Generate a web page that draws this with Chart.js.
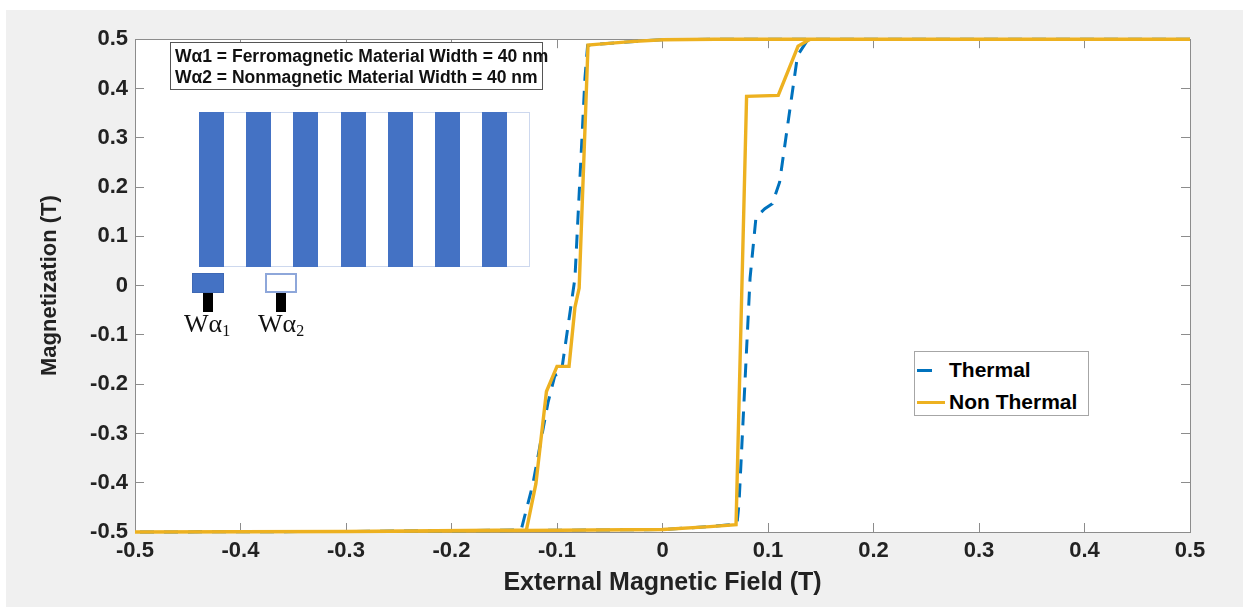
<!DOCTYPE html>
<html>
<head>
<meta charset="utf-8">
<script src="https://cdn.jsdelivr.net/npm/chart.js@4.4.1/dist/chart.umd.min.js"></script>
<style>
  html, body { margin: 0; padding: 0; background: #fff; }
  body { width: 1243px; height: 607px; position: relative; overflow: hidden; font-family: "Liberation Sans", Arial, sans-serif; }
  #wrap { position: absolute; left: 6px; top: 10px; width: 1237px; height: 597px; background: #f0f0f0; }
  #wrap canvas { position: absolute; left: 0; top: 0; }
  #note { position: absolute; left: 170px; top: 42px; width: 373px; height: 48px; box-sizing: border-box;
          border: 1px solid #555; background: #fff; padding: 3px 0 0 4px;
          font-weight: bold; font-size: 17.5px; line-height: 21px; color: #111; white-space: nowrap; }
  #stripes { position: absolute; left: 199px; top: 112px; width: 331px; height: 155px; box-sizing: border-box;
             border: 1px solid #cdd8ee; background: #fff; }
  #stripes div { position: absolute; top: -1px; bottom: -1px; width: 25px; background: #4472c4; }
  .chip { position: absolute; top: 273px; width: 32px; height: 20px; box-sizing: border-box; }
  .stem { position: absolute; top: 293px; width: 10px; height: 19px; background: #000; }
  .wlab { position: absolute; top: 309px; font-family: "Liberation Serif", "DejaVu Serif", serif; font-size: 26px;
          line-height: 30px; color: #111; white-space: nowrap; }
  .wlab sub { font-size: 16px; vertical-align: -4px; }
  #legend { position: absolute; left: 914px; top: 351px; width: 175px; height: 65px; box-sizing: border-box;
            border: 1px solid #a6a6a6; background: #fff; }
  #legend .row { position: absolute; left: 0; height: 26px; }
  #legend .swatch { position: absolute; left: 2px; top: 12px; height: 3px; }
  #legend .txt { position: absolute; left: 34px; top: 0; font-weight: bold; font-size: 21px; line-height: 26px; color: #000; white-space: nowrap; }
</style>
</head>
<body>
<div id="wrap"><canvas id="chart" width="1237" height="597"></canvas></div>

<div id="note">Wα1 = Ferromagnetic Material Width = 40 nm<br>Wα2 = Nonmagnetic Material Width = 40 nm</div>
<div id="stripes"></div>
<div class="chip" style="left:192px; background:#4472c4; border:1px solid #3e68b4;"></div>
<div class="chip" style="left:265px; background:#fff; border:2px solid #8ea7da;"></div>
<div class="stem" style="left:203px;"></div>
<div class="stem" style="left:276px;"></div>
<div class="wlab" style="left:184px;">Wα<sub>1</sub></div>
<div class="wlab" style="left:258px;">Wα<sub>2</sub></div>

<div id="legend">
  <div class="row" style="top:5px;"><div class="swatch" id="sw0" style="width:15px;"></div><div class="txt" id="lg0"></div></div>
  <div class="row" style="top:37px;"><div class="swatch" id="sw1" style="width:28px;"></div><div class="txt" id="lg1"></div></div>
</div>

<script>
// hysteresis loops (field in T, magnetization in T)
// path: sweep down from +0.5 to -0.5, then back up to +0.5
const thermalField = [0.5, 0.14, 0.05, 0.0, -0.03, -0.06, -0.071, -0.0735, -0.083, -0.0896, -0.096, -0.102, -0.1085, -0.123, -0.134, -0.3, -0.5,
                      -0.3, -0.13, 0.0, 0.045, 0.0706, 0.0725, 0.083, 0.0886, 0.097, 0.104, 0.111, 0.128, 0.138, 0.3, 0.5];
const thermalMag   = [0.5, 0.5, 0.5, 0.499, 0.495, 0.49, 0.487, 0.421, 0.015, -0.083, -0.178, -0.182, -0.237, -0.404, -0.496, -0.499, -0.5,
                      -0.499, -0.497, -0.495, -0.489, -0.484, -0.443, 0.015, 0.1385, 0.156, 0.166, 0.21, 0.467, 0.5, 0.5, 0.5];

const nonThermalField = [0.5, 0.14, 0.05, 0.0, -0.03, -0.06, -0.0706, -0.079, -0.083, -0.0886, -0.1, -0.11, -0.12, -0.129, -0.3, -0.5,
                         -0.3, -0.13, 0.0, 0.045, 0.0697, 0.0797, 0.1097, 0.1285, 0.14, 0.3, 0.5];
const nonThermalMag   = [0.5, 0.5, 0.5, 0.499, 0.495, 0.49, 0.488, -0.005, -0.044, -0.164, -0.164, -0.215, -0.402, -0.496, -0.499, -0.5,
                         -0.499, -0.497, -0.495, -0.489, -0.485, 0.384, 0.386, 0.486, 0.5, 0.5, 0.5];

const seriesNames = ['Thermal', 'Non Thermal'];
const tickValues = [-0.5, -0.4, -0.3, -0.2, -0.1, 0, 0.1, 0.2, 0.3, 0.4, 0.5];
const tickLabels = ['-0.5', '-0.4', '-0.3', '-0.2', '-0.1', '0', '0.1', '0.2', '0.3', '0.4', '0.5'];

const thermalColor = '#0072bd';
const nonThermalColor = '#edb120';
const axisColor = '#8c8c8c';
const textColor = '#222222';
const fontFamily = '"Liberation Sans", Arial, sans-serif';

// inset schematic: 7 ferromagnetic strips
const stripes = document.getElementById('stripes');
for (let i = 0; i < 7; i++) {
  const bar = document.createElement('div');
  bar.style.left = (-1 + i * 47.2) + 'px';
  stripes.appendChild(bar);
}

// legend built from the same names / colours as the datasets
document.getElementById('lg0').textContent = seriesNames[0];
document.getElementById('lg1').textContent = seriesNames[1];
document.getElementById('sw0').style.background = thermalColor;
document.getElementById('sw1').style.background = nonThermalColor;

const toPoints = (xs, ys) => xs.map((x, i) => ({ x: x, y: ys[i] }));
const pinTicks = scale => { scale.ticks = tickValues.map(v => ({ value: v })); };
const tickText = v => tickLabels[tickValues.indexOf(v)];

function boxAxis(position, extra) {
  return Object.assign({
    type: 'linear',
    position: position,
    min: -0.5,
    max: 0.5,
    afterBuildTicks: pinTicks,
    grid: { drawOnChartArea: false, drawTicks: true, tickLength: -9, color: axisColor, lineWidth: 1 },
    border: { display: true, color: axisColor, width: 1 },
    ticks: { display: false }
  }, extra);
}

const plotBackground = {
  id: 'plotBackground',
  beforeDraw(chart) {
    const { ctx, chartArea: a } = chart;
    ctx.save();
    ctx.fillStyle = '#ffffff';
    ctx.fillRect(a.left, a.top, a.right - a.left, a.bottom - a.top);
    ctx.restore();
  }
};

new Chart(document.getElementById('chart'), {
  type: 'scatter',
  data: {
    datasets: [
      {
        label: seriesNames[0],
        data: toPoints(thermalField, thermalMag),
        showLine: true,
        borderColor: thermalColor,
        backgroundColor: thermalColor,
        borderWidth: 3,
        borderDash: [14, 10],
        pointRadius: 0,
        clip: 4,
        order: 2
      },
      {
        label: seriesNames[1],
        data: toPoints(nonThermalField, nonThermalMag),
        showLine: true,
        borderColor: nonThermalColor,
        backgroundColor: nonThermalColor,
        borderWidth: 3.4,
        pointRadius: 0,
        clip: 4,
        order: 1
      }
    ]
  },
  options: {
    responsive: false,
    animation: false,
    events: [],
    layout: { padding: { top: 13, right: 53, bottom: 0, left: 0 } },
    plugins: { legend: { display: false }, tooltip: { enabled: false } },
    scales: {
      x: boxAxis('bottom', {
        afterFit: s => { s.height = 75; },
        ticks: { display: true, padding: 15, maxRotation: 0, autoSkip: false, color: textColor,
                 font: { family: fontFamily, size: 22, weight: 'bold' }, callback: tickText },
        title: { display: true, text: 'External Magnetic Field (T)', color: textColor,
                 font: { family: fontFamily, size: 25, weight: 'bold' }, padding: { top: 0, bottom: 9 } }
      }),
      y: boxAxis('left', {
        afterFit: s => { s.width = 129; },
        ticks: { display: true, padding: 16, autoSkip: false, color: textColor,
                 font: { family: fontFamily, size: 22, weight: 'bold' }, callback: tickText },
        title: { display: true, text: 'Magnetization (T)', color: textColor,
                 font: { family: fontFamily, size: 22, weight: 'bold' }, padding: { top: 31, bottom: 0 } }
      }),
      x2: boxAxis('top', { afterFit: s => { s.height = 0; } }),
      y2: boxAxis('right', { afterFit: s => { s.width = 0; } })
    }
  },
  plugins: [plotBackground]
});
</script>
</body>
</html>
